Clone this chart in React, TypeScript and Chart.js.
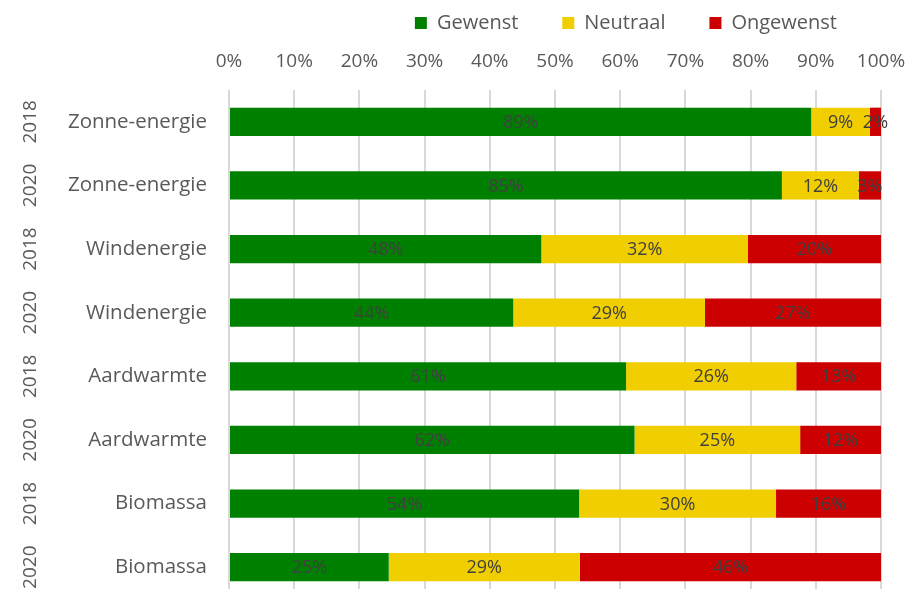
import { useEffect, useRef } from 'react';
import { Chart, registerables } from 'chart.js';

Chart.register(...registerables);

const categories = ['Zonne-energie', 'Zonne-energie', 'Windenergie', 'Windenergie', 'Aardwarmte', 'Aardwarmte', 'Biomassa', 'Biomassa'];
const years = ['2018', '2020', '2018', '2020', '2018', '2020', '2018', '2020'];
const seriesNames = ['Gewenst', 'Neutraal', 'Ongewenst'];
const gewenst = [89.3, 84.8, 47.9, 43.6, 60.9, 62.2, 53.7, 24.5];
const neutraal = [9.0, 11.8, 31.7, 29.4, 26.1, 25.4, 30.2, 29.3];
const ongewenst = [1.7, 3.4, 20.4, 27.0, 13.0, 12.4, 16.1, 46.2];
const xTickLabels = ['0%', '10%', '20%', '30%', '40%', '50%', '60%', '70%', '80%', '90%', '100%'];

const FONT = "'Open Sans', sans-serif";
const TEXT = '#595959';
const LABEL = '#404040';
const COLORS = ['#008000', '#f0ce00', '#cc0000'];

const yearPlugin = {
  id: 'yearLabels',
  afterDraw(chart: any) {
    const y = chart.scales.y;
    const ctx = chart.ctx;
    ctx.save();
    ctx.font = `19px ${FONT}`;
    ctx.fillStyle = TEXT;
    ctx.textAlign = 'center';
    ctx.textBaseline = 'middle';
    years.forEach((yr, i) => {
      const py = y.getPixelForValue(i);
      ctx.save();
      ctx.translate(31, py);
      ctx.rotate(-Math.PI / 2);
      ctx.fillText(yr, 0, 0);
      ctx.restore();
    });
    ctx.restore();
  },
};

const barLabelPlugin = {
  id: 'barLabels',
  afterDatasetsDraw(chart: any) {
    const ctx = chart.ctx;
    ctx.save();
    ctx.font = `18px ${FONT}`;
    ctx.fillStyle = LABEL;
    ctx.textAlign = 'center';
    ctx.textBaseline = 'middle';
    chart.data.datasets.forEach((ds: any, di: number) => {
      const meta = chart.getDatasetMeta(di);
      meta.data.forEach((el: any, i: number) => {
        const v = ds.data[i];
        const cx = (el.x + el.base) / 2;
        ctx.fillText(Math.round(v) + '%', cx, el.y + 1);
      });
    });
    ctx.restore();
  },
};

export default function App() {
  const ref = useRef<HTMLCanvasElement>(null);
  useEffect(() => {
    if (!ref.current) return;
    const values = [gewenst, neutraal, ongewenst];
    const chart = new Chart(ref.current, {
      type: 'bar',
      data: {
        labels: categories,
        datasets: seriesNames.map((name, i) => ({
          label: name,
          data: values[i],
          backgroundColor: COLORS[i],
          borderColor: COLORS[i],
          borderWidth: 0,
          barPercentage: 0.445,
          categoryPercentage: 1,
        })),
      },
      options: {
        indexAxis: 'y',
        responsive: true,
        maintainAspectRatio: false,
        animation: false,
        layout: { padding: { top: 0, right: 27, bottom: 11, left: 0 } },
        scales: {
          x: {
            position: 'top',
            stacked: true,
            min: 0,
            max: 100,
            ticks: {
              stepSize: 10,
              padding: 17.5,
              color: TEXT,
              font: { family: FONT, size: 19 },
              callback: (_v: any, i: number) => xTickLabels[i],
            },
            grid: { color: '#d9d9d9', lineWidth: 2, drawTicks: false },
            border: { display: false },
            afterFit: (s: any) => { s.height = 47; s.paddingLeft = 0; s.paddingRight = 0; },
          },
          y: {
            stacked: true,
            grid: { display: false, drawTicks: false },
            border: { display: false },
            ticks: { padding: 22, color: TEXT, font: { family: FONT, size: 20.5 } },
            afterFit: (s: any) => { s.width = 229; s.paddingTop = 0; s.paddingBottom = 0; },
          },
        },
        plugins: {
          legend: {
            position: 'top',
            align: 'end',
            labels: {
              boxWidth: 12,
              boxHeight: 12,
              padding: 44,
              color: TEXT,
              font: { family: FONT, size: 20 },
            },
          },
          tooltip: { enabled: false },
        },
      },
      plugins: [yearPlugin, barLabelPlugin],
    });
    return () => chart.destroy();
  }, []);

  return (
    <div style={{ position: 'fixed', left: 0, top: 0, width: 908, height: 589, overflow: 'hidden', background: '#fff' }}>
      <div style={{ position: 'absolute', left: 0, top: -31, width: 908, height: 641 }}>
        <canvas ref={ref} />
      </div>
    </div>
  );
}
